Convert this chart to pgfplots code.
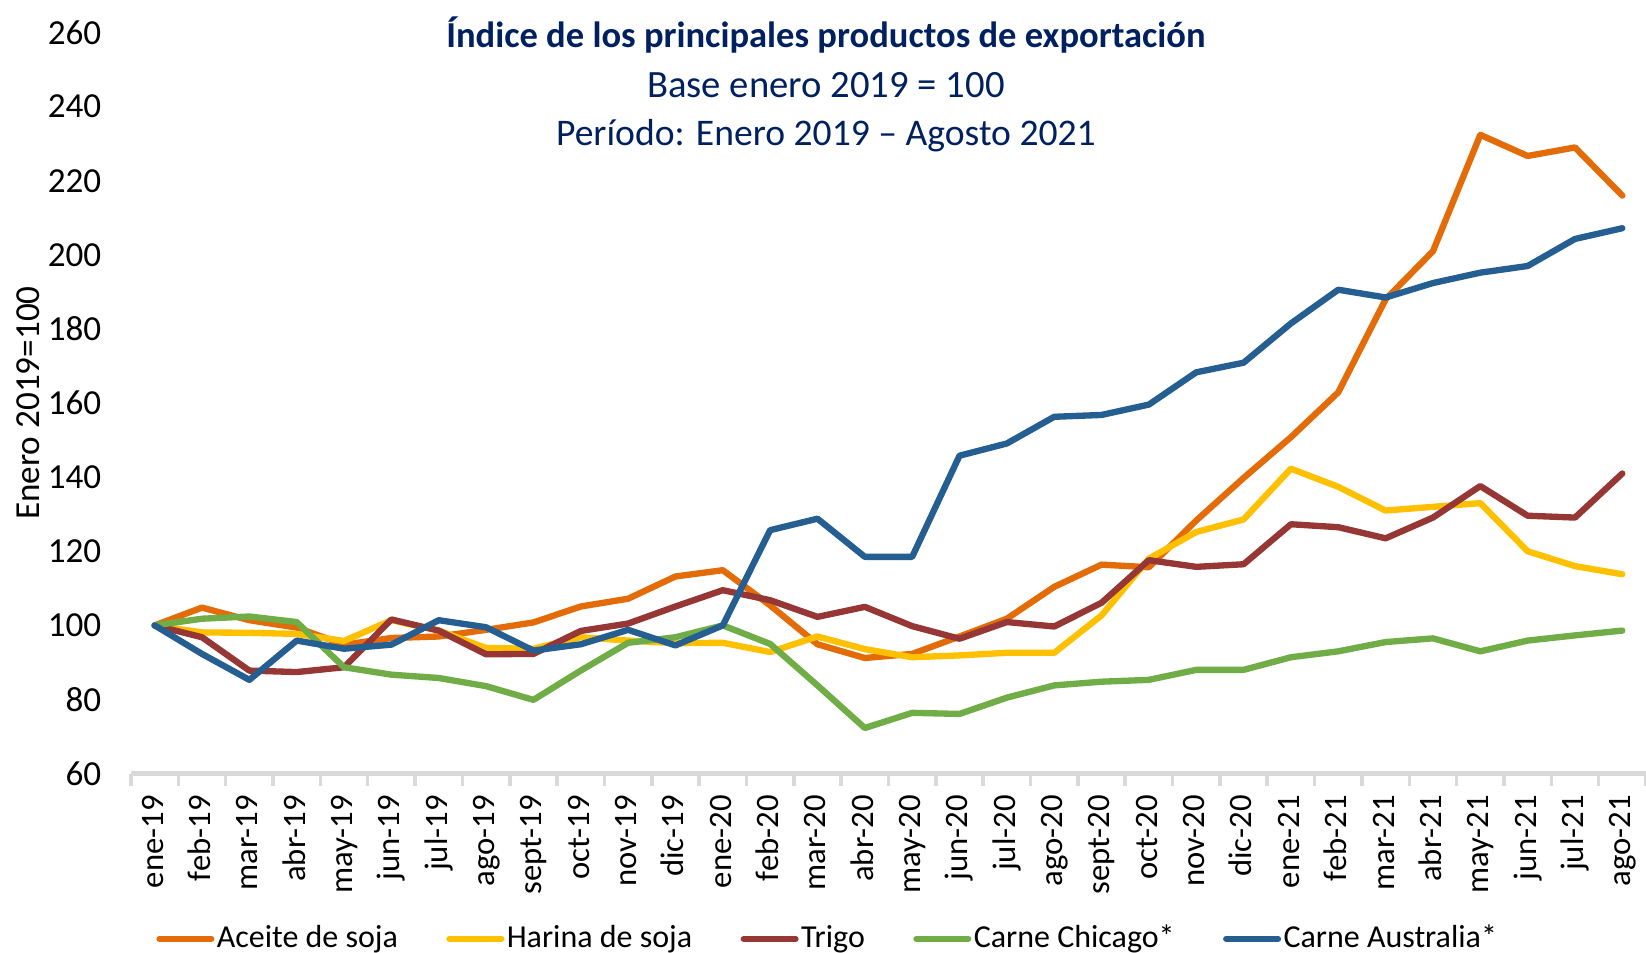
\documentclass[border=0pt]{standalone}
\usepackage{fontspec}
\setmainfont{Carlito}
\usepackage{pgfplots}
\pgfplotsset{compat=1.18}

\definecolor{aceite}{RGB}{227,108,9}
\definecolor{harina}{RGB}{255,192,0}
\definecolor{trigo}{RGB}{150,55,53}
\definecolor{chicago}{RGB}{112,173,71}
\definecolor{australia}{RGB}{37,94,145}
\definecolor{titulo}{RGB}{0,32,96}
\definecolor{eje}{RGB}{217,217,217}

\begin{document}
\begin{tikzpicture}
\begin{axis}[
  scale only axis,
  width=15.15cm, height=7.41cm,
  xmin=-0.5, xmax=31.5,
  ymin=60, ymax=260,
  ytick={60,80,...,260},
  xtick={0,...,31},
  xticklabels={ene-19,feb-19,mar-19,abr-19,may-19,jun-19,jul-19,ago-19,sept-19,oct-19,nov-19,dic-19,
    ene-20,feb-20,mar-20,abr-20,may-20,jun-20,jul-20,ago-20,sept-20,oct-20,nov-20,dic-20,
    ene-21,feb-21,mar-21,abr-21,may-21,jun-21,jul-21,ago-21},
  minor xtick={-0.5,0.5,...,31.5},
  major tick length=0pt,
  minor tick length=0.12cm,
  tick align=outside,
  axis x line*=bottom,
  axis y line*=left,
  x axis line style={draw=eje, line width=1.3pt},
  y axis line style={draw=none},
  xtick style={draw=eje, line width=1pt},
  ytick style={draw=none},
  /pgf/number format/assume math mode=true,
  yticklabel style={font=\fontsize{10}{12}\selectfont, text=black, anchor=east, inner sep=0pt, xshift=-0.29cm},
  xticklabel style={font=\fontsize{9.3}{11}\selectfont, text=black, rotate=90, anchor=mid east, inner sep=0pt},
  xticklabel shift=0.21cm,
  ylabel={Enero 2019=100},
  ylabel style={font=\fontsize{10}{12}\selectfont},
  every axis y label/.style={at={(axis description cs:-0.068,0.5)}, rotate=90, anchor=center},
  clip=false,
  legend columns=5,
  legend style={at={(axis description cs:0.4600,-0.223)}, anchor=center, draw=none,
    font=\fontsize{9.1}{11}\selectfont, inner sep=0pt,
    nodes={inner sep=0.7pt},
    /tikz/every even column/.append style={column sep=0.46cm}},
  legend image code/.code={\draw[#1, line width=1.7pt, line cap=round] (0cm,0cm) -- (0.52cm,0cm);},
  every axis plot/.append style={line width=1.8pt, line join=round, line cap=round},
]

\addplot[aceite] coordinates {
  (0,100) (1,104.8) (2,101.4) (3,99.4) (4,94.8) (5,96.6) (6,97.0) (7,98.8)
  (8,100.8) (9,105.1) (10,107.2) (11,113.2) (12,114.9) (13,105.4) (14,94.9) (15,91.2)
  (16,92.3) (17,97.0) (18,101.8) (19,110.4) (20,116.4) (21,115.7) (22,128.3) (23,139.8)
  (24,150.8) (25,162.9) (26,188.0) (27,201.0) (28,232.4) (29,226.7) (30,229.0) (31,216.0)
};
\addlegendentry{Aceite de soja}

\addplot[harina] coordinates {
  (0,100) (1,98.1) (2,98.0) (3,97.7) (4,95.8) (5,101.4) (6,98.6) (7,93.9)
  (8,93.7) (9,96.8) (10,95.9) (11,95.2) (12,95.3) (13,92.8) (14,97.0) (15,93.6)
  (16,91.4) (17,91.9) (18,92.6) (19,92.6) (20,102.7) (21,118.0) (22,125.2) (23,128.6)
  (24,142.3) (25,137.4) (26,131.0) (27,132.0) (28,133.0) (29,120.0) (30,116.0) (31,113.8)
};
\addlegendentry{Harina de soja}

\addplot[trigo] coordinates {
  (0,100) (1,96.8) (2,87.8) (3,87.4) (4,88.7) (5,101.6) (6,98.6) (7,92.2)
  (8,92.3) (9,98.5) (10,100.5) (11,105.1) (12,109.5) (13,106.8) (14,102.3) (15,105.0)
  (16,99.8) (17,96.4) (18,100.9) (19,99.7) (20,106.1) (21,117.6) (22,115.8) (23,116.5)
  (24,127.3) (25,126.5) (26,123.5) (27,129.1) (28,137.6) (29,129.6) (30,129.1) (31,141.0)
};
\addlegendentry{Trigo}

\addplot[chicago] coordinates {
  (0,100) (1,101.8) (2,102.4) (3,100.9) (4,88.7) (5,86.7) (6,85.8) (7,83.6)
  (8,79.9) (9,87.8) (10,95.3) (11,96.8) (12,100.0) (13,95.0) (14,83.8) (15,72.3)
  (16,76.4) (17,76.1) (18,80.5) (19,83.8) (20,84.8) (21,85.3) (22,88.0) (23,88.0)
  (24,91.4) (25,93.0) (26,95.5) (27,96.5) (28,93.0) (29,95.9) (30,97.3) (31,98.6)
};
\addlegendentry{Carne Chicago*}

\addplot[australia] coordinates {
  (0,100) (1,92.3) (2,85.3) (3,95.9) (4,93.7) (5,94.8) (6,101.4) (7,99.5)
  (8,93.2) (9,94.9) (10,98.8) (11,94.6) (12,100) (13,125.7) (14,128.8) (15,118.5)
  (16,118.5) (17,145.8) (18,149.1) (19,156.3) (20,156.8) (21,159.6) (22,168.3) (23,170.9)
  (24,181.5) (25,190.6) (26,188.5) (27,192.4) (28,195.2) (29,197.0) (30,204.3) (31,207.2)
};
\addlegendentry{Carne Australia*}

\node[text=titulo, font=\bfseries\fontsize{10.4}{12}\selectfont] at (axis description cs:0.4587,0.997) {Índice de los principales productos de exportación};
\node[text=titulo, font=\fontsize{11}{13}\selectfont] at (axis description cs:0.4587,0.929) {Base enero 2019 = 100};
\node[text=titulo, font=\fontsize{10.7}{13}\selectfont] at (axis description cs:0.4587,0.861) {Período: Enero 2019 – Agosto 2021};
\end{axis}
\pgfresetboundingbox
\path[use as bounding box] (-1.31cm,-1.793cm) rectangle (15.15cm,7.736cm);
\end{tikzpicture}
\end{document}
